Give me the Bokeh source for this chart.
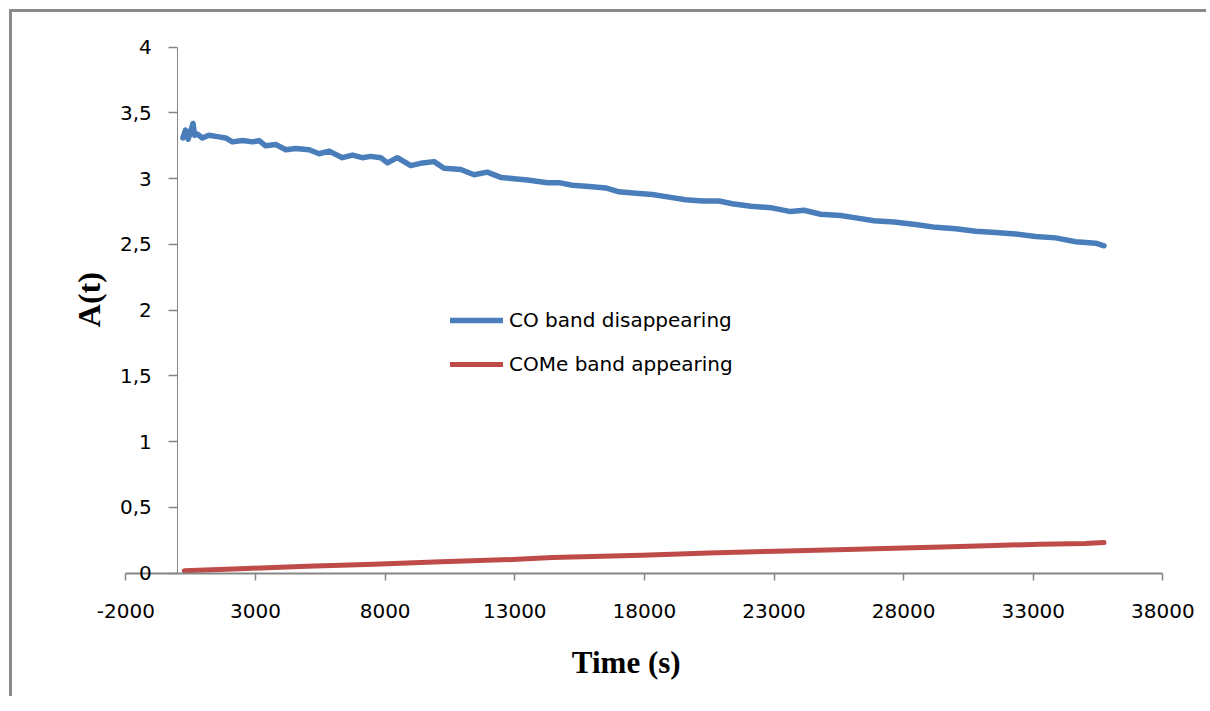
import math
from bokeh.plotting import figure
from bokeh.models import (Range1d, FixedTicker, CustomJSTickFormatter, Legend,
                          LegendItem, Label)
from bokeh.embed import file_html
from bokeh.resources import INLINE

# ---- data ----
co_time = [200, 300, 400, 500, 590, 650, 750, 950, 1200, 1530,
           1850, 2110, 2500, 2880, 3140, 3390, 3780, 4170, 4550, 5070,
           5450, 5840, 6350, 6740, 7120, 7440, 7830, 8090, 8470, 8990,
           9440, 9890, 10270, 10920, 11430, 11940, 12460, 12970, 13490, 14260,
           14710, 15220, 15870, 16510, 17020, 17670, 18310, 18950, 19590, 20240,
           20880, 21390, 22100, 22870, 23640, 24160, 24800, 25570, 26220, 26860,
           27630, 28530, 29240, 30010, 30780, 31550, 32320, 33090, 33860, 34640,
           35410, 35730]
co_abs = [3.31, 3.37, 3.30, 3.36, 3.42, 3.33, 3.34, 3.31, 3.33, 3.32,
          3.31, 3.28, 3.29, 3.28, 3.29, 3.25, 3.26, 3.22, 3.23, 3.22,
          3.19, 3.21, 3.16, 3.18, 3.16, 3.17, 3.16, 3.12, 3.16, 3.10,
          3.12, 3.13, 3.08, 3.07, 3.03, 3.05, 3.01, 3.00, 2.99, 2.97,
          2.97, 2.95, 2.94, 2.93, 2.90, 2.89, 2.88, 2.86, 2.84, 2.83,
          2.83, 2.81, 2.79, 2.78, 2.75, 2.76, 2.73, 2.72, 2.70, 2.68,
          2.67, 2.65, 2.63, 2.62, 2.60, 2.59, 2.58, 2.56, 2.55, 2.52,
          2.51, 2.49]

come_time = [250, 2660, 4990, 7570, 10150, 12910, 14460, 17900, 20480, 23070,
             25820, 29820, 31500, 33250, 35000, 35730]
come_abs = [0.018, 0.036, 0.053, 0.068, 0.086, 0.104, 0.119, 0.137, 0.154, 0.167,
            0.180, 0.200, 0.210, 0.220, 0.226, 0.233]

x_ticks = [-2000, 3000, 8000, 13000, 18000, 23000, 28000, 33000, 38000]
y_ticks = [0, 0.5, 1, 1.5, 2, 2.5, 3, 3.5, 4]
series_names = ["CO band disappearing", "COMe band appearing"]
series_colors = ["#4a7ebb", "#be4b48"]
x_title = "Time (s)"
y_title = "A(t)"

AXIS_GRAY = "#868686"
TICK_FONT = "DejaVu Sans"
TITLE_FONT = "Liberation Serif"

# The frame is made larger than the axes so that the axes (placed at x=0 / y=0)
# and all their labels are drawn inside it; axis bounds limit the axis lines.
p = figure(frame_width=1143, frame_height=664,
           x_range=Range1d(-4600, 39490), y_range=Range1d(-0.9, 4.15),
           min_border_left=46, min_border_right=5, min_border_top=15, min_border_bottom=5,
           output_backend="svg", toolbar_location=None)
p.styles = {"margin-top": "9px", "margin-left": "9px",
            "border-top": "3px solid #8a8a8a", "border-left": "3px solid #8a8a8a"}
p.outline_line_color = None
p.xgrid.grid_line_color = None
p.ygrid.grid_line_color = None

# x axis, at y = 0
xa = p.xaxis[0]
xa.fixed_location = 0
xa.bounds = (x_ticks[0], x_ticks[-1])
xa.ticker = FixedTicker(ticks=x_ticks)
xa.formatter = CustomJSTickFormatter(code="return tick.toString();")
xa.axis_line_color = AXIS_GRAY
xa.axis_line_width = 2
xa.major_tick_line_color = AXIS_GRAY
xa.major_tick_line_width = 1.5
xa.major_tick_in = 0
xa.major_tick_out = 7
xa.minor_tick_line_color = None
xa.major_label_text_font = TICK_FONT
xa.major_label_text_font_size = "20px"
xa.major_label_text_color = "black"
xa.major_label_standoff = 24

# y axis, at x = 0
ya = p.yaxis[0]
ya.fixed_location = 0
ya.bounds = (y_ticks[0], y_ticks[-1])
ya.ticker = FixedTicker(ticks=y_ticks)
ya.formatter = CustomJSTickFormatter(code="return tick.toString().replace('.', ',');")
ya.axis_line_color = AXIS_GRAY
ya.axis_line_width = 1
ya.major_tick_line_color = AXIS_GRAY
ya.major_tick_line_width = 1.5
ya.major_tick_in = 0
ya.major_tick_out = 9
ya.minor_tick_line_color = None
ya.major_label_text_font = TICK_FONT
ya.major_label_text_font_size = "20px"
ya.major_label_text_color = "black"
ya.major_label_standoff = 17

# axis titles, placed like the reference's (centred on the plot area)
p.add_layout(Label(x=17300, y=-0.68, text=x_title, text_font=TITLE_FONT,
                   text_font_style="bold", text_font_size="31px", text_color="black",
                   text_align="center", text_baseline="middle"))
p.add_layout(Label(x=-3420, y=2.08, text=y_title, text_font=TITLE_FONT,
                   text_font_style="bold", text_font_size="32px", text_color="black",
                   text_align="center", text_baseline="middle", angle=math.pi / 2))

r1 = p.line(co_time, co_abs, line_color=series_colors[0], line_width=5.5,
            line_join="round", line_cap="round")
r2 = p.line(come_time, come_abs, line_color=series_colors[1], line_width=5,
            line_join="round", line_cap="round")

legend = Legend(items=[LegendItem(label=series_names[0], renderers=[r1]),
                       LegendItem(label=series_names[1], renderers=[r2])],
                location=(392, 315), orientation="vertical")
legend.glyph_width = 53
legend.glyph_height = 20
legend.label_height = 20
legend.label_standoff = 6
legend.spacing = 20
legend.padding = 0
legend.margin = 0
legend.border_line_color = None
legend.background_fill_alpha = 0
legend.label_text_font = TICK_FONT
legend.label_text_font_size = "20px"
legend.label_text_color = "black"
p.add_layout(legend, "center")

open("out.html", "w").write(file_html(p, INLINE))
